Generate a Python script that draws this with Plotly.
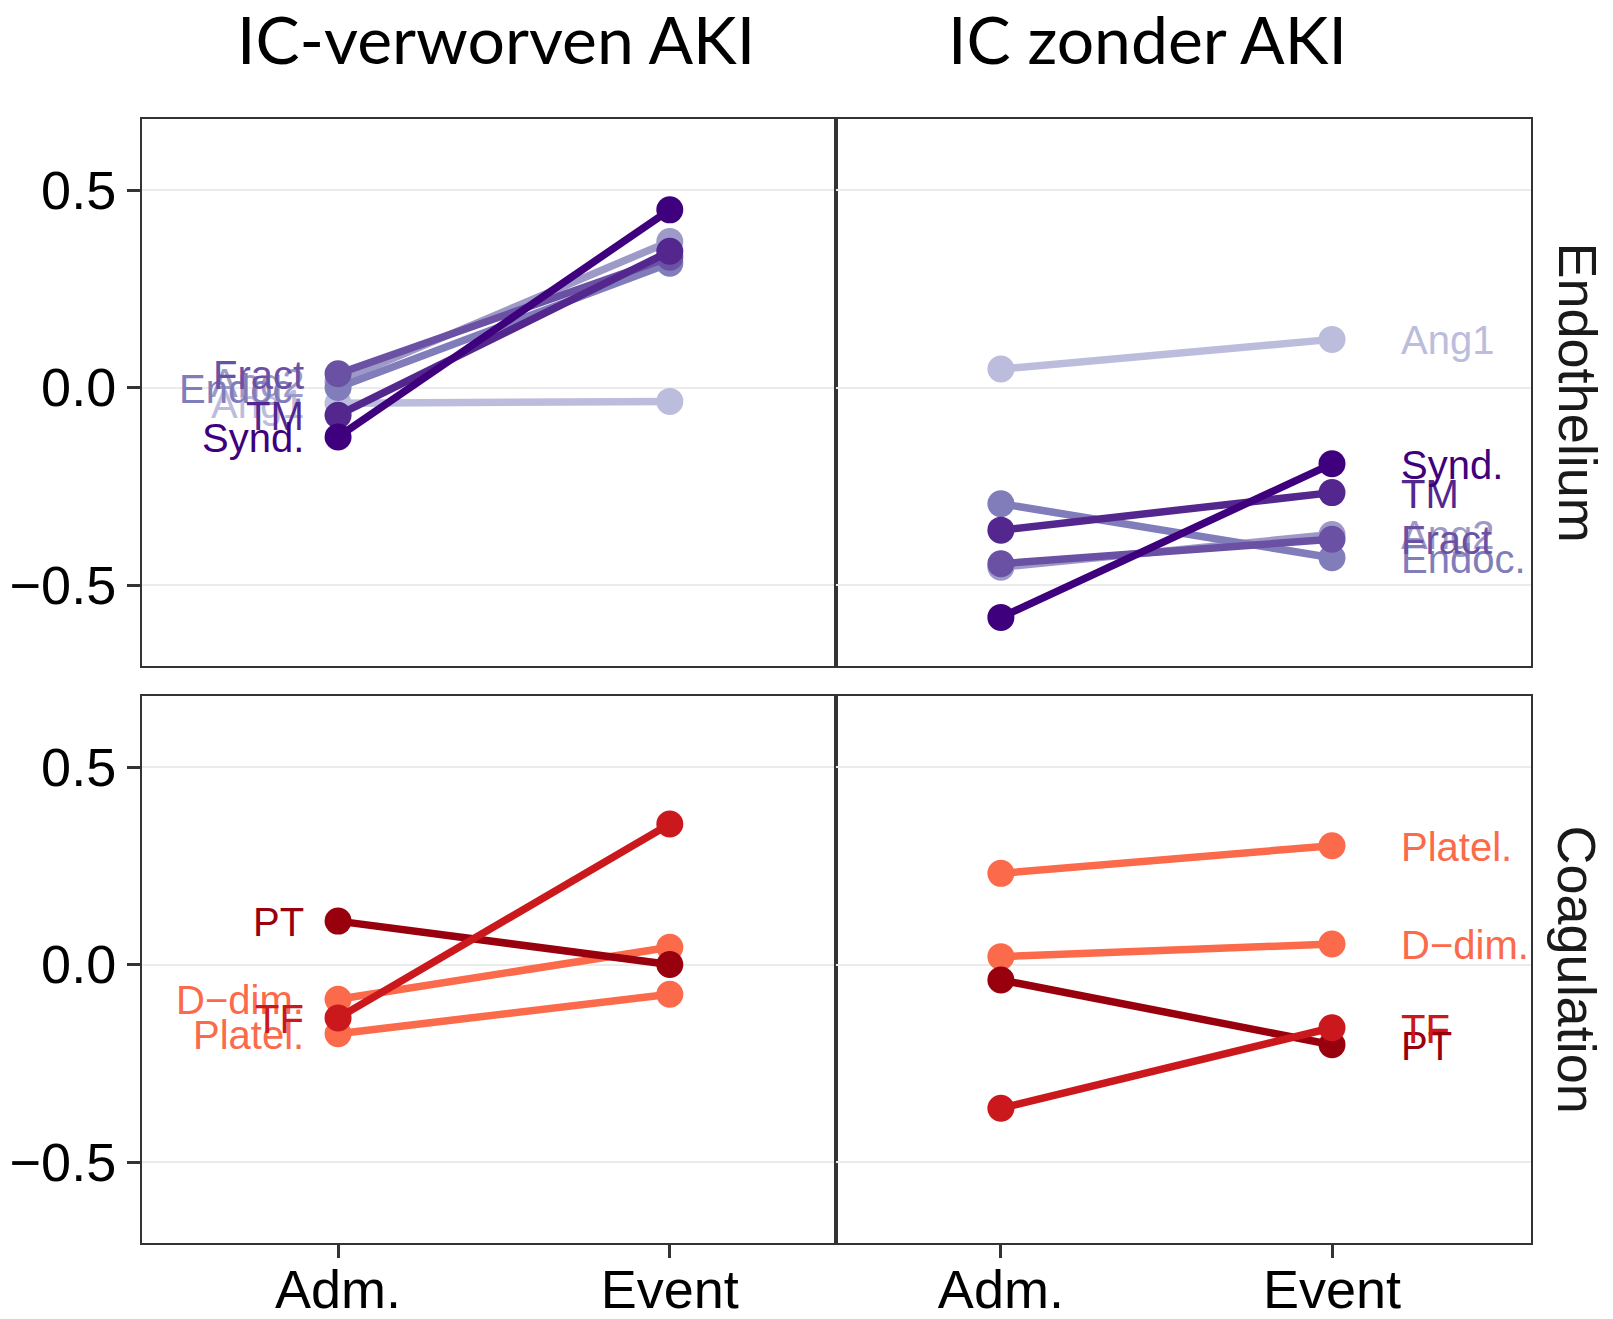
import plotly.graph_objects as go
from plotly.subplots import make_subplots

# ---- data -------------------------------------------------------------
stages = ["Adm.", "Event"]
groups = ["IC-verworven AKI", "IC zonder AKI"]
panels = ["Endothelium", "Coagulation"]

endo_markers = ["Ang1", "Ang2", "Endoc.", "Fract", "TM", "Synd."]
endo_colors = ["#bcbddc", "#9e9ac8", "#807dba", "#6a51a3", "#54278f", "#3f007d"]
endo_aki_adm = [-0.040, 0.015, 0.000, 0.035, -0.070, -0.125]
endo_aki_event = [-0.035, 0.370, 0.315, 0.330, 0.345, 0.450]
endo_noaki_adm = [0.047, -0.455, -0.294, -0.446, -0.361, -0.582]
endo_noaki_event = [0.122, -0.372, -0.431, -0.384, -0.266, -0.193]

coag_markers = ["Platel.", "D\u2212dim.", "PT", "TF"]
coag_colors = ["#fb6a4a", "#fb6a4a", "#99000d", "#cb181d"]
coag_aki_adm = [-0.175, -0.088, 0.110, -0.135]
coag_aki_event = [-0.075, 0.044, 0.000, 0.356]
coag_noaki_adm = [0.231, 0.020, -0.039, -0.364]
coag_noaki_event = [0.301, 0.052, -0.203, -0.160]

# page body has an 8px margin, so the figure is a bit smaller than the window
PAGE_W, PAGE_H, BODY = 1613, 1319, 8
W, H = PAGE_W - 2 * BODY, PAGE_H - 2 * BODY
LABEL_FONT = "Liberation Sans, Arial, sans-serif"


def px(x):
    return (x - BODY) / W


def py(y):
    return 1 - (y - BODY) / H


fig = make_subplots(rows=2, cols=2)

panel_data = [
    (1, 1, endo_markers, endo_colors, endo_aki_adm, endo_aki_event),
    (1, 2, endo_markers, endo_colors, endo_noaki_adm, endo_noaki_event),
    (2, 1, coag_markers, coag_colors, coag_aki_adm, coag_aki_event),
    (2, 2, coag_markers, coag_colors, coag_noaki_adm, coag_noaki_event),
]

for row, col, names, colors, adm, event in panel_data:
    fig.add_hline(y=0, line=dict(color="black", width=2.5, dash="14px,9px"),
                  layer="between", row=row, col=col)
    for name, color, a, e in zip(names, colors, adm, event):
        fig.add_trace(
            go.Scatter(
                x=stages, y=[a, e], mode="lines+markers", name=name,
                line=dict(color=color, width=7.5),
                marker=dict(color=color, size=27),
                showlegend=False,
            ),
            row=row, col=col,
        )
        # label beside the Adm. point on the left, beside Event on the right
        if col == 1:
            fig.add_annotation(x=stages[0], y=a, text=name, showarrow=False,
                               xanchor="right", xshift=-32, yshift=-1,
                               font=dict(family=LABEL_FONT, size=40, color=color),
                               row=row, col=col)
        else:
            fig.add_annotation(x=stages[1], y=e, text=name, showarrow=False,
                               xanchor="left", xshift=67, yshift=-1,
                               font=dict(family=LABEL_FONT, size=40, color=color),
                               row=row, col=col)

# ---- axes / layout ----------------------------------------------------
x_left = [px(142), px(836)]
x_right = [px(836), px(1531)]
y_top = [py(666), py(119)]
y_bot = [py(1243), py(696)]

axis_common = dict(showline=True, mirror=True, linecolor="#333333", linewidth=2,
                   zeroline=False, automargin=False)
tick_font = dict(family=LABEL_FONT, size=54, color="black")

for i, (xd, yd, col, row) in enumerate([
    (x_left, y_top, 1, 1), (x_right, y_top, 2, 1),
    (x_left, y_bot, 1, 2), (x_right, y_bot, 2, 2),
]):
    sfx = "" if i == 0 else str(i + 1)
    xr = [-0.591, 1.501] if col == 1 else [-0.498, 1.601]
    fig.layout["xaxis" + sfx].update(
        domain=xd, range=xr, showgrid=False,
        ticks="outside" if row == 2 else "", ticklen=13, tickwidth=3,
        tickcolor="#333333", showticklabels=(row == 2), tickfont=tick_font,
        ticklabelstandoff=-15,
        **axis_common,
    )
    fig.layout["yaxis" + sfx].update(
        domain=yd, range=[-0.705, 0.680], tickvals=[-0.5, 0, 0.5],
        ticktext=["\u22120.5", "0.0", "0.5"],
        showgrid=True, gridcolor="#ebebeb", gridwidth=2,
        ticks="outside" if col == 1 else "", ticklen=13, tickwidth=3,
        tickcolor="#333333", showticklabels=(col == 1), tickfont=tick_font,
        **axis_common,
    )

title_font = dict(family="Lato, Carlito, sans-serif", size=66, color="black")
for text, x in zip(groups, [496, 1147]):
    fig.add_annotation(text=text, x=px(x), y=py(38), xref="paper", yref="paper",
                       xanchor="center", yanchor="middle", showarrow=False,
                       font=title_font)

strip_font = dict(family=LABEL_FONT, size=54, color="#1a1a1a")
for text, yd in zip(panels, [y_top, y_bot]):
    fig.add_annotation(text=text, x=px(1577), y=sum(yd) / 2, xref="paper",
                       yref="paper", xanchor="center", yanchor="middle",
                       textangle=90, showarrow=False, font=strip_font)

fig.update_layout(
    width=W, height=H,
    margin=dict(l=0, r=0, t=0, b=0),
    paper_bgcolor="white", plot_bgcolor="white",
    showlegend=False,
)

fig.write_html("out.html")
